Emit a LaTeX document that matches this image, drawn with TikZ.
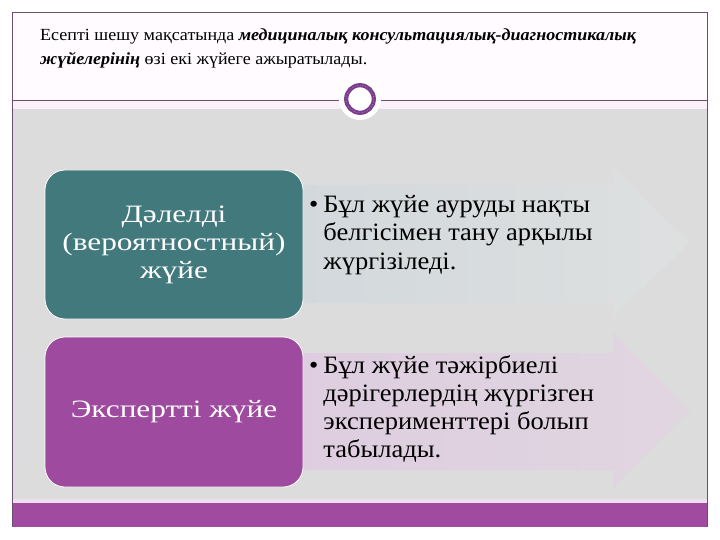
\documentclass[tikz,border=0pt]{standalone}
\usepackage{fontspec}
\setmainfont{Liberation Serif}
\newfontfamily\hdrfont[FakeStretch=1.06]{Liberation Serif}
\newfontfamily\boxfont[FakeStretch=1.25]{Liberation Serif}
\newfontfamily\bulfont[FakeStretch=1.06]{Liberation Serif}
\definecolor{tealbox}{HTML}{42797C}
\definecolor{purplebox}{HTML}{9E4A9E}
\definecolor{bandpurple}{HTML}{A04BA0}
\definecolor{bggrey}{HTML}{DCDCDC}
\definecolor{hdrbg}{HTML}{FFFBFF}
\definecolor{gapbg}{HTML}{FBF1FB}
\definecolor{stripbg}{HTML}{EEDFEE}
\definecolor{framec}{HTML}{6A4F74}
\definecolor{ringc}{HTML}{7A3D8C}
\definecolor{ringlight}{HTML}{B58CC2}
\definecolor{arrowAa}{HTML}{D2D8DC}
\definecolor{arrowAb}{HTML}{DEE0E0}
\definecolor{arrowBa}{HTML}{DECDE0}
\definecolor{arrowBb}{HTML}{E0D6E0}
\tikzset{
  sidebox/.style={draw=white, line width=0.8pt, rounded corners=20pt, minimum width=258pt,
    align=center, text=white, font=\boxfont\fontsize{25}{28}\selectfont},
  bullettext/.style={anchor=base west, inner sep=0pt, font=\bulfont\fontsize{25}{28}\selectfont},
  hdrtext/.style={anchor=base west, inner sep=0pt, font=\hdrfont\fontsize{17}{24}\selectfont},
  framel/.style={draw=framec, line width=0.9pt}
}
\begin{document}
\begin{tikzpicture}[x=1pt,y=-1pt]
\useasboundingbox (0,0) rectangle (720,540);
% backgrounds
\fill[hdrbg] (12,12) rectangle (707,100);
\fill[gapbg] (12,100) rectangle (707,109);
\fill[bggrey] (12,109) rectangle (707,499);
\fill[stripbg] (12,499) rectangle (707,503);
\fill[bandpurple] (12,503) rectangle (707,527);
\draw[framel] (12,527) -- (12,12) -- (707,12) -- (707,527);
\draw[framel] (12,100) -- (707,100);
% header text
\node[hdrtext] (hdr1) at (40,41) {Есепті шешу мақсатында \textbf{\textit{медициналық консультациялық-диагностикалық}}};
\node[hdrtext] (hdr2) at (40,65) {\textbf{\textit{жүйелерінің}} өзі екі жүйеге ажыратылады.};
% ornament circle
\fill[white] (360,99) circle (21);
\draw[ringc, line width=4.2pt] (360,99) circle (13.8);
\draw[ringlight, line width=0.7pt, dotted] (360,99) circle (13.8);
% arrows
\shade[left color=arrowAa, right color=arrowAb] (290,185) -- (613,185) -- (613,168) -- (690,242.5) -- (613,317) -- (613,303) -- (290,303) -- cycle;
\shade[left color=arrowBa, right color=arrowBb] (290,353) -- (613,353) -- (613,333) -- (690,410) -- (613,487) -- (613,470) -- (290,470) -- cycle;
% boxes
\node[sidebox, fill=tealbox, minimum height=149pt] (dalel) at (174,244.5) {Дәлелді\\(вероятностный)\\жүйе};
\node[sidebox, fill=purplebox, minimum height=150pt] (expert) at (174,412) {Экспертті жүйе};
% bullet texts
\node[bullettext] (t1) at (309,213) {\begin{tabular}[t]{@{}l@{\hspace{5pt}}l@{}}• & Бұл жүйе ауруды нақты\\ & белгісімен тану арқылы\\ & жүргізіледі.\end{tabular}};
\node[bullettext] (t2) at (309,373) {\begin{tabular}[t]{@{}l@{\hspace{5pt}}l@{}}• & Бұл жүйе тәжірбиелі\\ & дәрігерлердің жүргізген\\ & эксперименттері болып\\ & табылады.\end{tabular}};
\end{tikzpicture}
\end{document}
